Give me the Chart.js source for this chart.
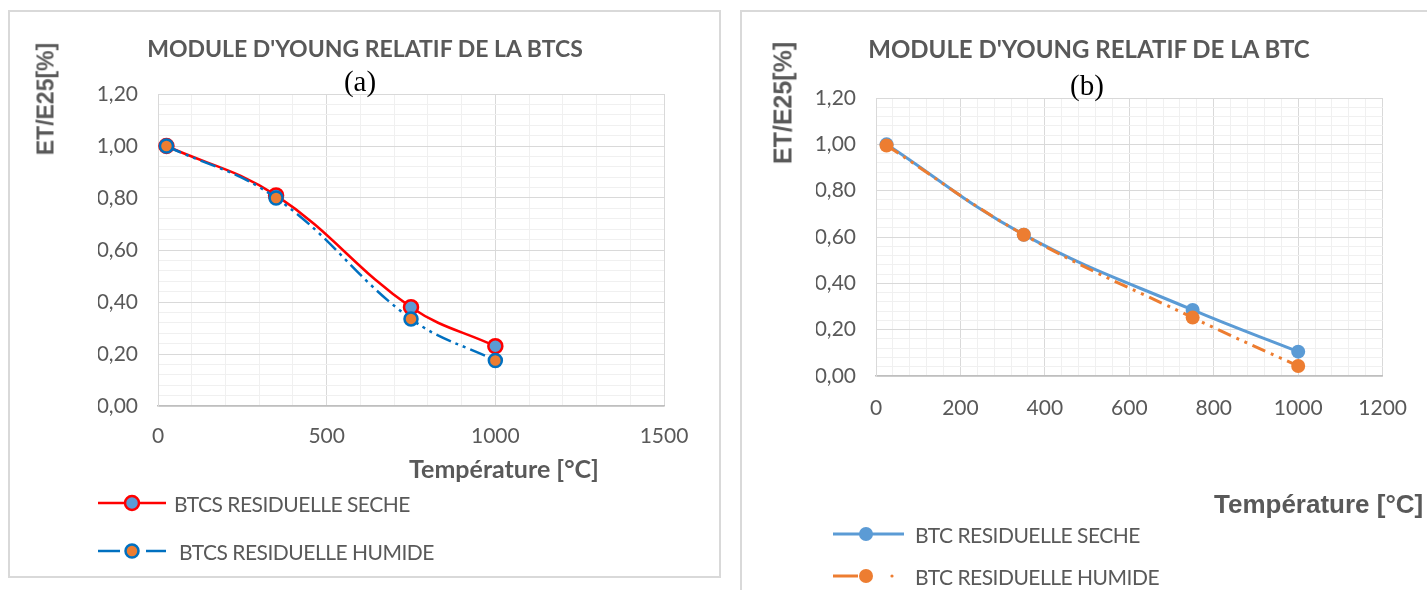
<!DOCTYPE html>
<html>
<head>
<meta charset="utf-8">
<script src="https://cdn.jsdelivr.net/npm/chart.js@4.4.1/dist/chart.umd.min.js"></script>
<style>
	body { margin: 0; background: #fff; width: 1427px; height: 590px; overflow: hidden; position: relative; }
	canvas { position: absolute; top: 0; }
	.panel { position: absolute; border: 2px solid #d9d9d9; box-sizing: border-box; }
	.txt { position: absolute; white-space: nowrap; transform: translate(-50%, -50%); color: #595959; }
	.title { font: bold 23px Lato, sans-serif; }
	.sub { font: 29px "Liberation Serif", serif; color: #000; }
	.axt { font: bold 25px Lato, sans-serif; }
	.axt2 { font: bold 26px "Liberation Sans", Arial, sans-serif; }
	.ytitle { font: bold 23px "Liberation Sans", Arial, sans-serif; transform: translate(-50%, -50%) rotate(-90deg); }
	.leg { position: absolute; white-space: nowrap; transform: translateY(-50%); color: #595959; font: 21px Lato, sans-serif; letter-spacing: -0.5px; }
</style>
</head>
<body>
<div class="panel" style="left:8px;top:10px;width:713px;height:568px;"></div>
<div class="panel" style="left:740px;top:10px;width:700px;height:600px;"></div>
<canvas id="chartA" width="730" height="590" style="left:0;width:730px;height:590px;"></canvas>
<canvas id="chartB" width="697" height="590" style="left:730px;width:697px;height:590px;"></canvas>

<div class="txt title" style="left:365px;top:48px;">MODULE D'YOUNG RELATIF DE LA BTCS</div>
<div class="txt sub" style="left:360px;top:81px;">(a)</div>
<div class="txt ytitle" style="left:46px;top:99px;">ET/E25[%]</div>
<div class="txt axt" style="left:504px;top:468px;">Température [°C]</div>
<div class="leg" style="left:174px;top:503px;">BTCS RESIDUELLE SECHE</div>
<div class="leg" style="left:179px;top:551px;">BTCS RESIDUELLE HUMIDE</div>

<div class="txt title" style="left:1089px;top:48px;font-size:24px;">MODULE D'YOUNG RELATIF DE LA BTC</div>
<div class="txt sub" style="left:1087px;top:85px;">(b)</div>
<div class="txt ytitle" style="left:783px;top:103px;font-size:25px;">ET/E25[%]</div>
<div class="txt axt2" style="left:1214px;top:504px;transform:translateY(-50%);">Température [°C]</div>
<div class="leg" style="left:915px;top:534px;">BTC RESIDUELLE SECHE</div>
<div class="leg" style="left:915px;top:576px;">BTC RESIDUELLE HUMIDE</div>

<script>
// (a) BTCS
const tempsA = [25, 350, 750, 1000];
const secheA = [1.00, 0.81, 0.38, 0.23];
const humideA = [1.00, 0.80, 0.335, 0.175];
// (b) BTC
const tempsB = [25, 350, 750, 1000];
const secheB = [1.00, 0.61, 0.285, 0.105];
const humideB = [0.995, 0.61, 0.252, 0.043];

// axes
const yMax = 1.2, yMajor = 0.2, yMinor = 0.04;
const xMaxA = 1500, xMajorA = 500, xMinorA = 100;
const xMaxB = 1200, xMajorB = 200, xMinorB = 40;

const BLUE = "#5B9BD5", ORANGE = "#ED7D31", RED = "#FF0000", DBLUE = "#0070C0";
const GRAY = "#595959";

function isMajor(v, step) {
	const r = v / step;
	return Math.abs(r - Math.round(r)) < 1e-6;
}

function pts(xs, ys) {
	return xs.map((x, i) => ({ x: x, y: ys[i] }));
}

// legend samples drawn on the canvas
function legendPlugin(rows) {
	return {
		id: "legendSamples",
		afterDraw(chart) {
			const ctx = chart.ctx;
			rows.forEach((r) => {
				ctx.save();
				ctx.strokeStyle = r.line;
				ctx.lineWidth = r.width;
				ctx.lineCap = "butt";
				r.segs.forEach((s) => {
					ctx.beginPath();
					ctx.moveTo(s[0], r.y);
					ctx.lineTo(s[1], r.y);
					ctx.stroke();
				});
				(r.dots || []).forEach((d) => {
					ctx.fillStyle = r.line;
					ctx.beginPath();
					ctx.arc(d, r.y, 1.6, 0, Math.PI * 2);
					ctx.fill();
				});
				ctx.beginPath();
				ctx.arc(r.mx, r.y, r.mr, 0, Math.PI * 2);
				ctx.fillStyle = r.fill;
				ctx.fill();
				if (r.mb) {
					ctx.lineWidth = r.mb;
					ctx.strokeStyle = r.mstroke;
					ctx.stroke();
				}
				ctx.restore();
			});
		},
	};
}

function makeChart(id, datasets, xMax, xMajor, xMinor, pad, xPad, legendRows) {
	return new Chart(document.getElementById(id), {
		type: "line",
		data: { datasets: datasets },
		plugins: [legendPlugin(legendRows)],
		options: {
			responsive: false,
			animation: false,
			layout: { padding: pad },
			plugins: { legend: { display: false }, tooltip: { enabled: false } },
			scales: {
				x: {
					type: "linear",
					min: 0,
					max: xMax,
					ticks: {
						stepSize: xMinor,
						autoSkip: false,
						maxRotation: 0,
						padding: xPad,
						color: GRAY,
						font: { family: "Lato", size: 21 },
						callback: (v) => (isMajor(v, xMajor) ? String(v) : ""),
					},
					grid: {
						drawTicks: false,
						color: (c) => (isMajor(c.tick.value, xMajor) ? "#d9d9d9" : "#f0f0f0"),
					},
					border: { color: "#bfbfbf", width: 1.5 },
					afterFit: (s) => { s.height = 40; },
				},
				y: {
					min: 0,
					max: yMax,
					ticks: {
						stepSize: yMinor,
						autoSkip: false,
						padding: 20,
						color: GRAY,
						font: { family: "Lato", size: 21 },
						callback: (v) => (isMajor(v, yMajor) ? v.toFixed(2).replace(".", ",") : ""),
					},
					grid: {
						drawTicks: false,
						color: (c) => (isMajor(c.tick.value, yMajor) ? "#d9d9d9" : "#f0f0f0"),
					},
					border: { color: "#d9d9d9" },
					afterFit: (s) => { s.width = 60; },
				},
			},
		},
	});
}

makeChart(
	"chartA",
	[
		{
			label: "BTCS RESIDUELLE SECHE",
			data: pts(tempsA, secheA),
			borderColor: RED,
			borderWidth: 2.5,
			tension: 0.4,
			pointRadius: 7,
			pointBackgroundColor: BLUE,
			pointBorderColor: RED,
			pointBorderWidth: 2.5,
			order: 1,
		},
		{
			label: "BTCS RESIDUELLE HUMIDE",
			data: pts(tempsA, humideA),
			borderColor: DBLUE,
			borderWidth: 2.5,
			borderDash: [16, 5, 3, 5, 3, 5],
			tension: 0.4,
			pointRadius: 6.5,
			pointBackgroundColor: ORANGE,
			pointBorderColor: DBLUE,
			pointBorderWidth: 2.5,
			order: 0,
		},
	],
	xMaxA, xMajorA, xMinorA,
	{ left: 98, right: 66, top: 94, bottom: 144 },
	18,
	[
		{ y: 503, line: RED, width: 2.5, segs: [[98, 166]], mx: 132, mr: 7, fill: BLUE, mb: 2.5, mstroke: RED },
		{ y: 551, line: DBLUE, width: 2.5, segs: [[98, 120], [146, 166]], mx: 132, mr: 6.5, fill: ORANGE, mb: 2.5, mstroke: DBLUE },
	]
);

makeChart(
	"chartB",
	[
		{
			label: "BTC RESIDUELLE SECHE",
			data: pts(tempsB, secheB),
			borderColor: BLUE,
			borderWidth: 3,
			tension: 0.4,
			pointRadius: 7,
			pointBackgroundColor: BLUE,
			pointBorderColor: BLUE,
			pointBorderWidth: 0,
			order: 1,
		},
		{
			label: "BTC RESIDUELLE HUMIDE",
			data: pts(tempsB, humideB),
			borderColor: ORANGE,
			borderWidth: 3,
			borderDash: [14, 6, 3, 6, 3, 6],
			tension: 0.4,
			pointRadius: 7,
			pointBackgroundColor: ORANGE,
			pointBorderColor: ORANGE,
			pointBorderWidth: 0,
			order: 0,
		},
	],
	xMaxB, xMajorB, xMinorB,
	{ left: 86, right: 44, top: 98, bottom: 174 },
	20,
	[
		{ y: 534, line: BLUE, width: 3, segs: [[103, 174]], mx: 136, mr: 7, fill: BLUE },
		{ y: 576, line: ORANGE, width: 3, segs: [[103, 128]], dots: [162], mx: 136, mr: 7, fill: ORANGE },
	]
);
</script>
</body>
</html>
